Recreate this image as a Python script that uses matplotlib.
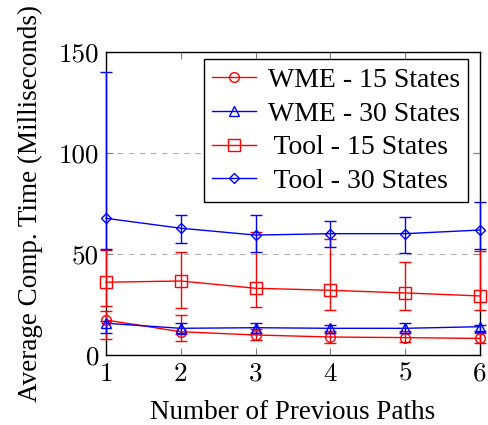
import matplotlib
matplotlib.use("Agg")
import matplotlib.pyplot as plt
from matplotlib.lines import Line2D
import numpy as np

x = [1, 2, 3, 4, 5, 6]

wme15 = [17.3, 11.5, 9.9, 8.9, 8.6, 8.2]
wme15_lo = [7.8, 7.1, 7.4, 6.0, 6.3, 6.0]
wme15_hi = [22.0, 19.8, 13.0, 12.0, 12.0, 11.0]

wme30 = [15.7, 13.2, 13.5, 13.2, 13.2, 14.0]
wme30_lo = [11.0, 10.5, 11.0, 11.0, 11.0, 12.0]
wme30_hi = [17.0, 16.0, 15.7, 14.8, 16.0, 15.0]

tool15 = [36.0, 36.6, 33.0, 32.0, 30.7, 29.2]
tool15_lo = [24.2, 23.1, 23.9, 22.3, 22.3, 22.3]
tool15_hi = [52.0, 51.1, 60.7, 57.2, 46.1, 51.4]

tool30 = [67.6, 62.7, 59.3, 60.0, 60.0, 61.8]
tool30_lo = [52.3, 55.4, 51.1, 53.3, 50.3, 52.3]
tool30_hi = [140.1, 69.4, 69.4, 66.1, 68.4, 75.5]

labels = ["WME - 15 States", "WME - 30 States", "Tool - 15 States", "Tool - 30 States"]

plt.rcParams['font.family'] = ['Liberation Serif', 'DejaVu Serif']
plt.rcParams['mathtext.fontset'] = 'cm'

FS = 19.5

fig = plt.figure(figsize=(4.88, 4.25), dpi=100)
ax = fig.add_axes([0.2172, 0.1647, 0.7664, 0.7137])

series = [
    (wme15, wme15_lo, wme15_hi, '#ff0000', 'o', 7),
    (wme30, wme30_lo, wme30_hi, '#0000ff', '^', 7),
    (tool15, tool15_lo, tool15_hi, '#ff0000', 's', 8),
    (tool30, tool30_lo, tool30_hi, '#0000ff', 'D', 5.5),
]

handles = []
shown_labels = []
for (y, lo, hi, c, m, ms), lab in zip(series, labels):
    y = np.array(y); lo = np.array(lo); hi = np.array(hi)
    err = [y - lo, hi - y]
    eb = ax.errorbar(x, y, yerr=err, color=c, marker=m, markersize=ms,
                     markerfacecolor='none', markeredgecolor=c, markeredgewidth=1.0,
                     linewidth=1.0, elinewidth=1.0, capsize=4.5, capthick=1.0,
                     clip_on=False, zorder=3)
    for a in eb.get_children():
        a.set_clip_on(False)
    handles.append(Line2D([], [], color=c, marker=m, markersize=ms,
                          markerfacecolor='none', markeredgecolor=c,
                          markeredgewidth=1.0, linewidth=1.0))
    shown_labels.append(lab if lab.startswith('WME') else '\u2009' + lab)

ax.set_xlim(1, 6)
ax.set_ylim(0, 150)
ax.set_xticks(x)
ax.set_yticks([0, 50, 100, 150])
ax.set_xticklabels([str(v) for v in x])
ax.set_yticklabels(['0', '50', '100', '150'])
for t in ax.get_xticklabels() + ax.get_yticklabels():
    t.set_fontfamily('cmr10')
    t.set_fontsize(FS)

ax.yaxis.grid(True, linestyle=(0, (5, 5)), color='#b0b0b0', linewidth=0.8)
ax.set_axisbelow(True)
ax.tick_params(direction='in', length=5, color='#808080', top=True, right=True, width=0.8, pad=5)

for s in ax.spines.values():
    s.set_color('black')
    s.set_linewidth(1.0)

ax.set_xlabel('Number of Previous Paths', fontsize=FS, labelpad=10)
ax.set_ylabel('Average Comp. Time (Milliseconds)', fontsize=FS, labelpad=11)

leg = ax.legend(handles, shown_labels, loc='upper right', bbox_to_anchor=(0.968, 0.976),
                borderaxespad=0, fontsize=FS + 0.5, frameon=True, fancybox=False,
                edgecolor='black', framealpha=1, handlelength=1.6,
                borderpad=0.3, labelspacing=0.3, handletextpad=0.4)
leg.get_frame().set_linewidth(1.0)
leg.set_zorder(10)

fig.savefig('out.png', dpi=100)
